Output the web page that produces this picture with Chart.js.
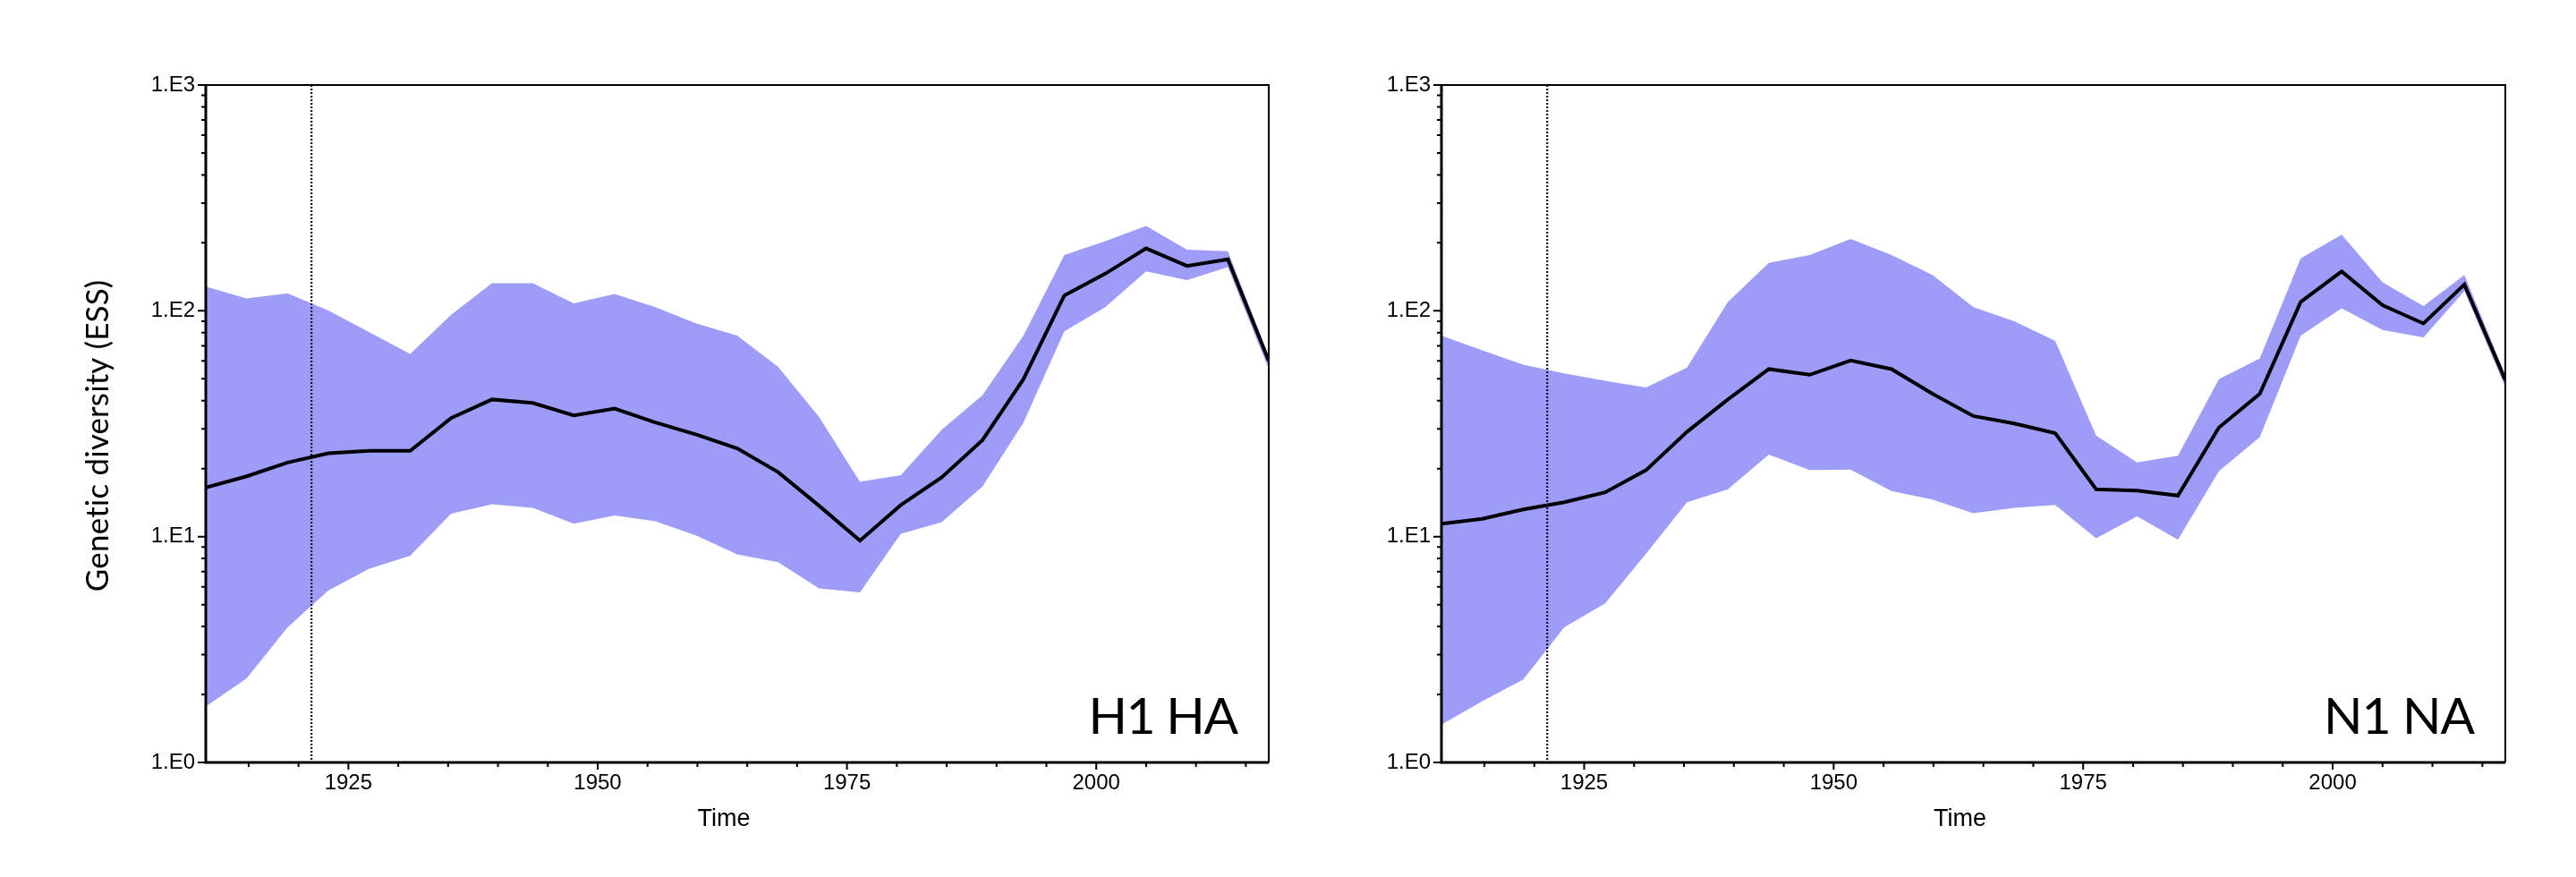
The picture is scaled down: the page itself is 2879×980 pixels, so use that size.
<!DOCTYPE html>
<html>
<head>
  <title>Genetic diversity through time</title>
  <script src="https://cdn.jsdelivr.net/npm/chart.js@4/dist/chart.umd.min.js"></script>
  <style>
    body {
      margin: 0;
      background: #fff;
      width: 2879px;
      height: 980px;
      overflow: hidden;
      position: relative;
    }
    .chart-box {
      position: absolute;
      top: 0;
      height: 980px;
    }
    #box-h1 { left: 0; width: 1440px; }
    #box-n1 { left: 1440px; width: 1439px; }
  </style>
</head>
<body>
  <div class="chart-box" id="box-h1"><canvas id="h1-chart"></canvas></div>
  <div class="chart-box" id="box-n1"><canvas id="n1-chart"></canvas></div>
  <script>
    Chart.defaults.font.family = "'Liberation Sans', Arial, sans-serif";
    Chart.defaults.color = '#000';

    // time points of the skyline
    var years = [1910.7, 1914.8, 1918.9, 1923.0, 1927.1, 1931.2, 1935.3, 1939.4, 1943.5,
      1947.6, 1951.7, 1955.8, 1959.9, 1964.0, 1968.1, 1972.2, 1976.3, 1980.4, 1984.5,
      1988.6, 1992.7, 1996.8, 2000.9, 2005.0, 2009.1, 2013.2, 2017.3];

    // H1 HA
    var h1Mean = [16.5, 18.5, 21.3, 23.4, 24.0, 24.0, 33.5, 40.5, 39.1, 34.4, 36.9, 32.0, 28.3,
      24.6, 19.3, 13.7, 9.6, 13.8, 18.3, 26.8, 49.8, 117, 146, 189, 158, 169, 60];
    var h1Upper = [128, 113.5, 119.7, 100.4, 80.4, 64.4, 96, 132.6, 132.6, 108, 118.7, 103.9, 87.9,
      77.6, 56.4, 33.9, 17.5, 18.7, 29.7, 42.3, 77.6, 176.7, 203.5, 237.8, 186.4, 183.7, 63];
    var h1Lower = [1.77, 2.36, 3.97, 5.78, 7.21, 8.23, 12.65, 13.9, 13.4, 11.4, 12.4, 11.7, 10.1,
      8.35, 7.7, 5.9, 5.66, 10.3, 11.6, 16.7, 32, 81.2, 103.9, 149.4, 136.7, 156, 55];

    // N1 NA
    var n1Mean = [11.4, 12.0, 13.2, 14.2, 15.7, 19.7, 29.1, 40.5, 55.2, 52.1, 60.3, 55.2, 42.9,
      34.2, 31.7, 28.7, 16.2, 16.0, 15.2, 30.4, 42.9, 109.5, 149.4, 105.8, 87.9, 130.8, 49.4];
    var n1Upper = [77.6, 66.8, 57.7, 52.8, 49, 45.8, 56, 109.5, 163.2, 176.7, 208, 176.7, 144,
      103.9, 89.8, 73.6, 28, 21.3, 22.8, 49.8, 61.6, 170.5, 217.6, 133.6, 104.9, 144, 52];
    var n1Lower = [1.47, 1.87, 2.33, 3.97, 5.06, 8.4, 14.2, 16.2, 23.1, 19.7, 19.8, 15.9, 14.6,
      12.7, 13.4, 13.8, 9.84, 12.3, 9.7, 19.5, 27.6, 77.6, 102.6, 82.2, 76.3, 122.4, 46];

    // axes
    var xTicks = [1915, 1920, 1925, 1930, 1935, 1940, 1945, 1950, 1955, 1960, 1965, 1970,
      1975, 1980, 1985, 1990, 1995, 2000, 2005, 2010, 2015];
    var xLabelYears = [1925, 1950, 1975, 2000];
    var yTicks = [1, 2, 3, 4, 5, 6, 7, 8, 9, 10, 20, 30, 40, 50, 60, 70, 80, 90,
      100, 200, 300, 400, 500, 600, 700, 800, 900, 1000];
    var yLabelValues = [1, 10, 100, 1000];
    var yLabelTexts = ['1.E0', '1.E1', '1.E2', '1.E3'];
    var markerYear = 1921.3;

    var bandColor = '#9d9df8';

    function toPoints(values) {
      return values.map(function (v, i) { return { x: years[i], y: v }; });
    }

    // set font at a fixed size and squeeze letters so the text fills the target width
    function setSqueezedFont(ctx, text, size, family, target) {
      ctx.letterSpacing = '0px';
      ctx.font = size + 'px ' + family;
      var w = ctx.measureText(text).width;
      var sp = (target - w) / text.length;
      ctx.letterSpacing = sp.toFixed(2) + 'px';
      return sp;
    }

    var panelDecor = {
      id: 'panelDecor',
      afterDraw: function (chart, args, opts) {
        var ctx = chart.ctx, a = chart.chartArea;
        var x = chart.scales.x, y = chart.scales.y;
        ctx.save();

        // dotted marker line
        var mx = x.getPixelForValue(markerYear);
        ctx.strokeStyle = '#10102a';
        ctx.lineWidth = 2.2;
        ctx.setLineDash([2, 2]);
        ctx.beginPath();
        ctx.moveTo(mx, a.top);
        ctx.lineTo(mx, a.bottom);
        ctx.stroke();
        ctx.setLineDash([]);

        // frame
        ctx.strokeStyle = '#000';
        ctx.lineWidth = 2;
        ctx.beginPath();
        ctx.moveTo(a.left, a.top);
        ctx.lineTo(a.right, a.top);
        ctx.lineTo(a.right, a.bottom);
        ctx.stroke();
        ctx.lineWidth = 3;
        ctx.beginPath();
        ctx.moveTo(a.left, a.top - 1);
        ctx.lineTo(a.left, a.bottom);
        ctx.lineTo(a.right, a.bottom);
        ctx.stroke();

        // tick marks
        ctx.lineWidth = 2;
        ctx.beginPath();
        y.ticks.forEach(function (t) {
          var py = y.getPixelForValue(t.value);
          var len = yLabelValues.indexOf(t.value) >= 0 ? 9 : 5;
          ctx.moveTo(a.left, py);
          ctx.lineTo(a.left - len, py);
        });
        x.ticks.forEach(function (t) {
          var px = x.getPixelForValue(t.value);
          var len = xLabelYears.indexOf(t.value) >= 0 ? 8 : 5;
          ctx.moveTo(px, a.bottom);
          ctx.lineTo(px, a.bottom + len);
        });
        ctx.stroke();

        // panel name
        ctx.fillStyle = '#000';
        var sp = setSqueezedFont(ctx, opts.name, 57, 'Lato', opts.nameWidth);
        ctx.textAlign = 'right';
        ctx.textBaseline = 'alphabetic';
        ctx.fillText(opts.name, a.right - 34 + sp, a.bottom - 32);
        ctx.letterSpacing = '0px';

        // x title
        ctx.font = "27px 'Liberation Sans', Arial, sans-serif";
        ctx.textAlign = 'center';
        ctx.textBaseline = 'middle';
        ctx.fillText('Time', (a.left + a.right) / 2 - 15, 916);

        // y title
        if (opts.yTitle) {
          ctx.translate(110, 487);
          ctx.rotate(-Math.PI / 2);
          var sp2 = setSqueezedFont(ctx, opts.yTitle, 35, 'Lato', 349);
          ctx.textAlign = 'center';
          ctx.textBaseline = 'middle';
          ctx.fillText(opts.yTitle, sp2 / 2, 0);
          ctx.letterSpacing = '0px';
        }
        ctx.restore();
      }
    };

    function createChart(canvasId, mean, upper, lower, panel) {
      return new Chart(document.getElementById(canvasId), {
        type: 'line',
        data: {
          datasets: [{
            label: 'Median',
            data: toPoints(mean),
            borderColor: '#000',
            borderWidth: 4,
            pointRadius: 0,
            tension: 0,
            fill: false,
            order: 0
          }, {
            label: 'Upper 95% HPD',
            data: toPoints(upper),
            borderColor: 'rgba(0,0,0,0)',
            borderWidth: 0,
            backgroundColor: bandColor,
            pointRadius: 0,
            tension: 0,
            fill: '+1',
            order: 1
          }, {
            label: 'Lower 95% HPD',
            data: toPoints(lower),
            borderColor: 'rgba(0,0,0,0)',
            borderWidth: 0,
            pointRadius: 0,
            tension: 0,
            fill: false,
            order: 2
          }]
        },
        options: {
          responsive: true,
          maintainAspectRatio: false,
          animation: false,
          layout: { padding: { left: 0, top: 95, right: panel.rightPad, bottom: 0 } },
          plugins: {
            legend: { display: false },
            tooltip: { enabled: false },
            panelDecor: panel
          },
          scales: {
            x: {
              type: 'linear',
              min: years[0],
              max: years[years.length - 1],
              grid: { display: false, drawTicks: false },
              border: { display: false },
              afterBuildTicks: function (s) {
                s.ticks = xTicks.map(function (v) { return { value: v }; });
              },
              afterFit: function (s) { s.height = 128; },
              ticks: {
                autoSkip: false,
                maxRotation: 0,
                padding: 9,
                font: { size: 24 },
                callback: function (v) { return xLabelYears.indexOf(v) >= 0 ? String(v) : ''; }
              }
            },
            y: {
              type: 'logarithmic',
              min: 1,
              max: 1000,
              grid: { display: false, drawTicks: false },
              border: { display: false },
              afterBuildTicks: function (s) {
                s.ticks = yTicks.map(function (v) { return { value: v }; });
              },
              afterFit: function (s) { s.width = panel.axisWidth; },
              ticks: {
                autoSkip: false,
                padding: 12,
                font: { size: 24 },
                callback: function (v) {
                  var i = yLabelValues.indexOf(v);
                  return i >= 0 ? yLabelTexts[i] : '';
                }
              }
            }
          }
        },
        plugins: [panelDecor]
      });
    }

    var charts = {
      h1: createChart('h1-chart', h1Mean, h1Upper, h1Lower,
        { name: 'H1 HA', nameWidth: 166, yTitle: 'Genetic diversity (ESS)', axisWidth: 230, rightPad: 22 }),
      n1: createChart('n1-chart', n1Mean, n1Upper, n1Lower,
        { name: 'N1 NA', nameWidth: 168, yTitle: '', axisWidth: 171, rightPad: 79 })
    };
  </script>
</body>
</html>
